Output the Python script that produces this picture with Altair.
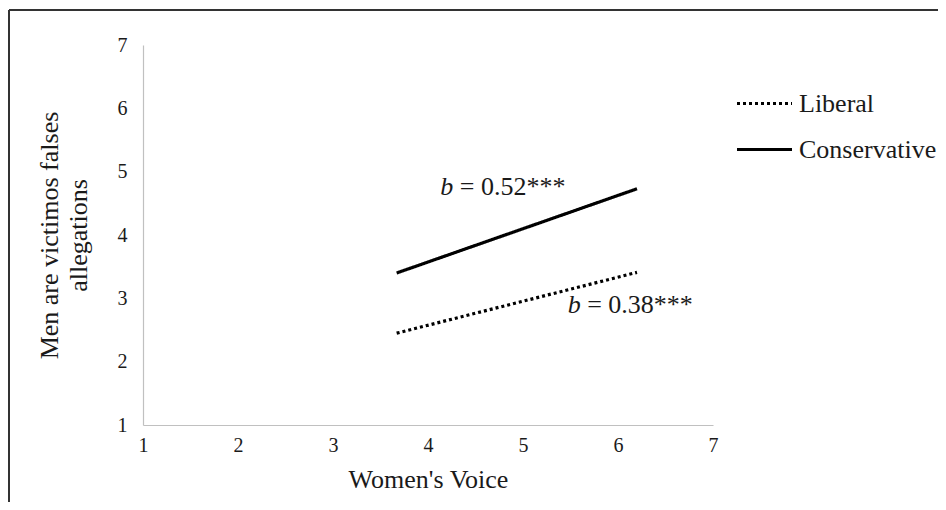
import altair as alt
import pandas as pd

# ---- data ----
groups = ["Liberal", "Liberal", "Conservative", "Conservative"]
voice = [3.67, 6.20, 3.67, 6.20]
allegations = [2.45, 3.41, 3.40, 4.73]

ann_x = [4.13, 5.47]
ann_y = [4.63, 2.77]
ann_b = ["b", "b"]
ann_text = ["= 0.52***", "= 0.38***"]

ticks = [1, 2, 3, 4, 5, 6, 7]
series_order = ["Liberal", "Conservative"]

FONT = "Liberation Serif"
INK = "#1a1a1a"

lines_df = pd.DataFrame({"group": groups, "voice": voice, "allegations": allegations})
ann_df = pd.DataFrame({"x": ann_x, "y": ann_y, "b": ann_b, "text": ann_text})

x_scale = alt.Scale(domain=[1, 7], nice=False, zero=False)
y_scale = alt.Scale(domain=[1, 7], nice=False, zero=False)

x_axis = alt.Axis(
    values=ticks, format="d", title="Women's Voice", ticks=False, grid=False,
    labelPadding=10, titlePadding=11, labelFlush=False,
)
y_axis = alt.Axis(
    values=ticks, format="d", title=["Men are victimos falses", "allegations"],
    ticks=False, grid=False, labelPadding=16, titleLineHeight=29, titlePadding=26,
    labelFlush=False,
)

lines = alt.Chart(lines_df).mark_line(color="black", strokeWidth=3.2).encode(
    x=alt.X("voice:Q", scale=x_scale, axis=x_axis),
    y=alt.Y("allegations:Q", scale=y_scale, axis=y_axis),
    detail="group:N",
    strokeDash=alt.StrokeDash(
        "group:N",
        scale=alt.Scale(domain=series_order, range=[[3, 3], [1, 0]]),
        legend=alt.Legend(
            title=None, orient="none", legendX=592, legendY=29,
            symbolType="stroke", symbolSize=3025, symbolStrokeWidth=3.2,
            symbolStrokeColor="black", labelOffset=5, rowPadding=3, padding=0,
        ),
    ),
)

b_text = alt.Chart(ann_df).mark_text(
    align="left", baseline="alphabetic", font=FONT, fontSize=26,
    fontStyle="italic", color=INK,
).encode(x=alt.X("x:Q", scale=x_scale, axis=x_axis),
         y=alt.Y("y:Q", scale=y_scale, axis=y_axis), text="b:N")

rest_text = alt.Chart(ann_df).mark_text(
    align="left", baseline="alphabetic", font=FONT, fontSize=26, dx=19.5, color=INK,
).encode(x=alt.X("x:Q", scale=x_scale, axis=x_axis),
         y=alt.Y("y:Q", scale=y_scale, axis=y_axis), text="text:N")

frame_data = alt.Data(values=[{}])
frame_left = alt.Chart(frame_data).mark_rule(color="#333333", strokeWidth=2).encode(
    x=alt.value(-134), y=alt.value(-35), y2=alt.value(480)
)
frame_top = alt.Chart(frame_data).mark_rule(color="#333333", strokeWidth=2).encode(
    x=alt.value(-134), x2=alt.value(800), y=alt.value(-35)
)

chart = alt.layer(lines, b_text, rest_text, frame_left, frame_top).properties(
    width=570, height=380,
    autosize=alt.AutoSizeParams(type="none"),
    padding={"left": 135, "top": 37, "right": 225, "bottom": 77},
    background="white",
).configure(font=FONT).configure_view(stroke=None).configure_axis(
    domainColor="#c0c0c0", domainWidth=1.2,
    labelFont=FONT, labelFontSize=20, labelColor=INK,
    titleFont=FONT, titleFontSize=26, titleFontWeight="normal", titleColor=INK,
).configure_legend(
    labelFont=FONT, labelFontSize=26, labelColor=INK,
)

chart.save("out.html", embed_options={"renderer": "svg", "actions": False})
